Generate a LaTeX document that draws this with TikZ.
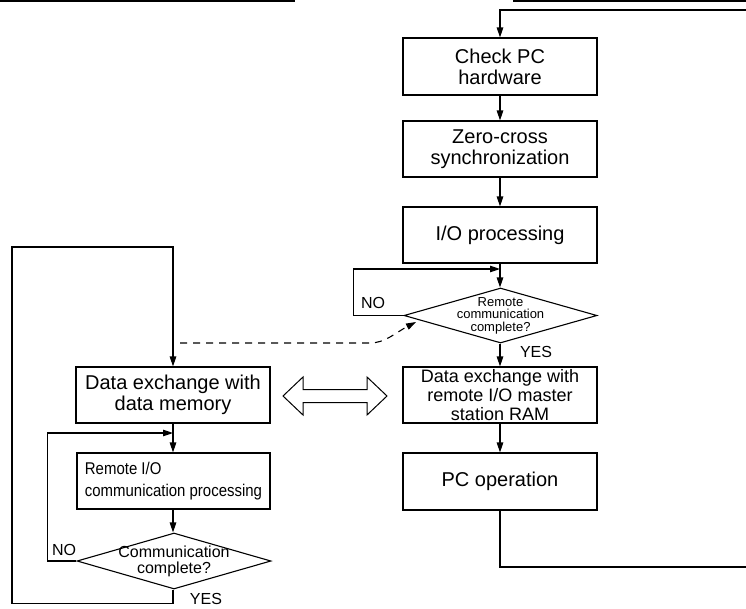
\documentclass[tikz,border=0pt]{standalone}
\usepackage{fontspec}
\setmainfont{Liberation Sans}
\newfontfamily\narrowsans[FakeStretch=0.88]{Liberation Sans}
\usetikzlibrary{arrows.meta,shapes.geometric}
\begin{document}
\begin{tikzpicture}[x=1pt,y=-1pt,
  line width=1.1pt,
  arr/.style={-{Triangle[length=10pt,width=6.5pt]}},
  box/.style={draw,rectangle,minimum width=194pt,minimum height=56pt,inner sep=0pt,align=center,
    font=\fontsize{20}{21}\selectfont},
  dia/.style={draw,diamond,minimum width=194pt,minimum height=56pt,inner sep=0pt},
  lbl/.style={inner sep=0pt,font=\fontsize{16}{16}\selectfont}]
\useasboundingbox (0,0) rectangle (746,608);
% top border lines
\draw[line width=1.8pt] (0,0.9) -- (295,0.9);
\draw[line width=1.8pt] (513,0.9) -- (746,0.9);
% right column
\node[box,minimum height=57pt] (check) at (500,66.5) {Check PC\\hardware};
\node[box] (zero) at (500,149) {Zero-cross\\synchronization};
\node[box] (io) at (500,235) {I/O processing};
\node[dia,minimum width=193pt,minimum height=55pt,
  label={[align=center,font=\fontsize{13}{12.5}\selectfont,inner sep=0pt]center:Remote\\communication\\complete?}] (d1) at (500.5,315.5) {};
\node[box,font=\fontsize{18}{18.6}\selectfont] (dxr) at (500,395) {Data exchange with\\remote I/O master\\station RAM};
\node[box,minimum height=57pt] (pcop) at (500,481.5) {PC operation};
% left column
\node[box] (dm) at (173,395) {Data exchange with\\data memory};
\node[box,align=left,minimum width=193pt,font=\narrowsans\fontsize{17}{22}\selectfont] (rio) at (173.5,481) {Remote I/O\\communication processing};
\node[dia,minimum width=194pt,
  label={[align=center,font=\fontsize{16}{16}\selectfont,inner sep=0pt]center:Communication\\complete?}] (d2) at (174,561) {};
% coordinates
\coordinate (rtop) at (746,10);
\coordinate (ctop) at (500,10);
\coordinate (j1) at (500,269);
\coordinate (rbot) at (746,567);
\coordinate (lout) at (12,247);
\coordinate (j2) at (173,433);
\coordinate (ds) at (180,343);
\coordinate (dk) at (370,343);
\coordinate (dt) at (416,322);
% right connectors
\draw[arr] (rtop) -- (ctop) -- (check.north);
\draw[arr] (check) -- (zero);
\draw[arr] (zero) -- (io);
\draw[arr] (io.south) -- (d1.north -| io.south);
\draw[arr] (d1.west) -- ++(-50,0) |- (j1);
\draw[arr] (d1.south -| dxr.north) -- (dxr.north);
\draw[arr] (dxr) -- (pcop);
\draw (pcop.south) |- (rbot);
% left connectors
\draw[arr] (d2.south -| dm.south) -- ++(0,14) -| (lout) -| (dm.north);
\draw[arr] (dm.south) -- (rio.north -| dm.south);
\draw[arr] (d2.west) -- ++(-29,0) |- (j2);
\draw[arr] (rio.south -| dm.south) -- (d2.north -| dm.south);
% dashed
\draw[arr,dash pattern=on 7pt off 6pt] (ds) -- (dk) .. controls (385,343) and (395,333) .. (dt);
% double arrow
\draw[line width=1pt] (283,396) -- (303,377) -- (303,389.5) -- (367,389.5) -- (367,377) -- (387,396)
  -- (367,415) -- (367,402.5) -- (303,402.5) -- (303,415) -- cycle;
% labels
\node[lbl] (no1) at (373,303) {NO};
\node[lbl] (yes1) at (536,352) {YES};
\node[lbl] (no2) at (64,550) {NO};
\node[lbl] (yes2) at (206,599) {YES};
\end{tikzpicture}
\end{document}
